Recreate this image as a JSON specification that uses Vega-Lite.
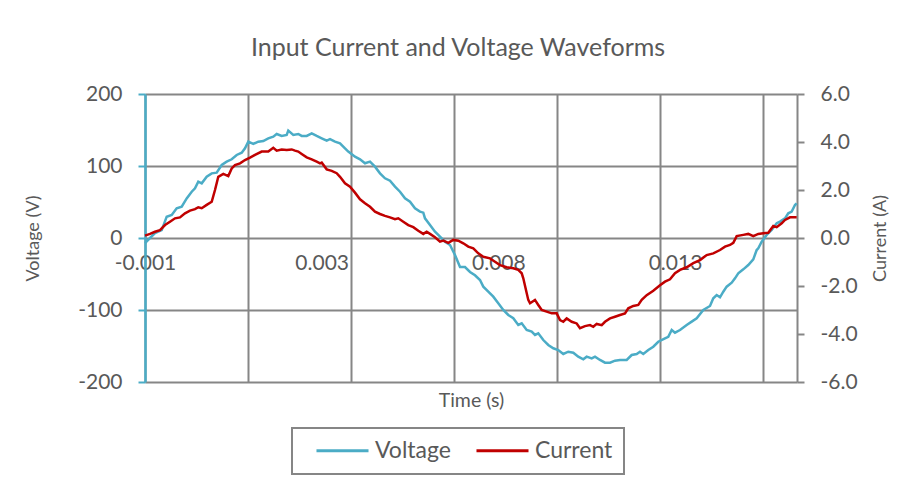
{
  "$schema": "https://vega.github.io/schema/vega-lite/v6.json",
  "width": 652,
  "height": 288,
  "autosize": {"type": "none"},
  "padding": {"left": 145, "top": 94, "right": 109, "bottom": 104},
  "background": "white",
  "config": {
    "view": {"stroke": null},
    "font": "Lato",
    "axis": {"labelFont": "Lato", "titleFont": "Lato", "labelColor": "#595959", "titleColor": "#595959", "titleFontWeight": "normal"},
    "legend": {"strokeWidth": 2}
  },
  "title": {"text": "Input Current and Voltage Waveforms", "fontSize": 25, "font": "Lato", "fontWeight": "normal", "color": "#595959", "anchor": "middle", "dx": -13, "offset": 22},
  "datasets": {
    "voltage": [
      {"t":-0.0015,"V":-7},{"t":-0.001359,"V":0},{"t":-0.001217,"V":6.9},{"t":-0.001027,"V":11},{"t":-0.000886,"V":29.6},{"t":-0.000744,"V":31.9},{"t":-0.000603,"V":41.2},{"t":-0.000461,"V":43.5},{"t":-0.00032,"V":55},{"t":-0.000178,"V":64.3},{"t":-0.000085,"V":69},{"t":0.000008,"V":78.2},{"t":0.000105,"V":75.9},{"t":0.000246,"V":85.1},{"t":0.000388,"V":89.8},{"t":0.000529,"V":90.7},{"t":0.000671,"V":101.4},{"t":0.000812,"V":106},{"t":0.000954,"V":109.3},{"t":0.001095,"V":115.3},{"t":0.001237,"V":118.5},{"t":0.00133,"V":124.6},{"t":0.001423,"V":133.8},{"t":0.001565,"V":130.6},{"t":0.001706,"V":133.8},{"t":0.001848,"V":134.7},{"t":0.001989,"V":138.5},{"t":0.002131,"V":140.8},{"t":0.002227,"V":144.5},{"t":0.002369,"V":141.8},{"t":0.00251,"V":143.1},{"t":0.002555,"V":149.1},{"t":0.002697,"V":143.1},{"t":0.002838,"V":144.5},{"t":0.002935,"V":141.8},{"t":0.003076,"V":141.8},{"t":0.003218,"V":145.4},{"t":0.003359,"V":141.8},{"t":0.003501,"V":138.5},{"t":0.003642,"V":135.2},{"t":0.003736,"V":137.2},{"t":0.003877,"V":133.8},{"t":0.004019,"V":131.5},{"t":0.00416,"V":124.6},{"t":0.004253,"V":120},{"t":0.004443,"V":112.9},{"t":0.004585,"V":109.3},{"t":0.004726,"V":103.8},{"t":0.004868,"V":106},{"t":0.005009,"V":99.1},{"t":0.005151,"V":89.8},{"t":0.005292,"V":82.9},{"t":0.005434,"V":79.6},{"t":0.005575,"V":71.3},{"t":0.005717,"V":64.3},{"t":0.005858,"V":55.1},{"t":0.006,"V":50.5},{"t":0.006141,"V":41.2},{"t":0.006283,"V":36.6},{"t":0.006376,"V":35.2},{"t":0.006424,"V":27.3},{"t":0.006566,"V":18.1},{"t":0.006707,"V":8.8},{"t":0.006849,"V":1.8},{"t":0.00699,"V":-5.1},{"t":0.007132,"V":-9.7},{"t":0.007273,"V":-23.6},{"t":0.007415,"V":-40.3},{"t":0.007556,"V":-40.3},{"t":0.007698,"V":-47.2},{"t":0.007839,"V":-51.7},{"t":0.007981,"V":-58.3},{"t":0.008074,"V":-67.6},{"t":0.008215,"V":-74.6},{"t":0.008357,"V":-81.5},{"t":0.008498,"V":-90.7},{"t":0.00864,"V":-100},{"t":0.008781,"V":-106.9},{"t":0.008923,"V":-111.5},{"t":0.009064,"V":-120.8},{"t":0.009161,"V":-118.5},{"t":0.009302,"V":-127.8},{"t":0.009444,"V":-130.1},{"t":0.009537,"V":-134.7},{"t":0.00963,"V":-132.4},{"t":0.009772,"V":-141.7},{"t":0.009913,"V":-148.6},{"t":0.010055,"V":-153.2},{"t":0.010196,"V":-155.6},{"t":0.010338,"V":-161.1},{"t":0.010479,"V":-157.9},{"t":0.010621,"V":-159.3},{"t":0.010762,"V":-164.8},{"t":0.010904,"V":-168.5},{"t":0.011,"V":-164.8},{"t":0.011142,"V":-167.1},{"t":0.011235,"V":-164.8},{"t":0.011377,"V":-169.4},{"t":0.011518,"V":-173.1},{"t":0.01166,"V":-173.1},{"t":0.011801,"V":-170.4},{"t":0.011943,"V":-169.4},{"t":0.012132,"V":-169.4},{"t":0.012274,"V":-162.5},{"t":0.012415,"V":-161.1},{"t":0.012509,"V":-157.9},{"t":0.012602,"V":-161.1},{"t":0.012743,"V":-155.6},{"t":0.012885,"V":-151},{"t":0.013026,"V":-144.1},{"t":0.013216,"V":-139.3},{"t":0.013309,"V":-137.2},{"t":0.013406,"V":-127.8},{"t":0.013499,"V":-131.5},{"t":0.013641,"V":-127.8},{"t":0.01383,"V":-120.8},{"t":0.013972,"V":-116.2},{"t":0.014113,"V":-111.5},{"t":0.0143,"V":-100},{"t":0.01449,"V":-94.4},{"t":0.014583,"V":-83.8},{"t":0.014679,"V":-79.2},{"t":0.014773,"V":-82.4},{"t":0.014866,"V":-74.6},{"t":0.014962,"V":-67.6},{"t":0.015104,"V":-62},{"t":0.015197,"V":-56},{"t":0.01529,"V":-49},{"t":0.015432,"V":-43.5},{"t":0.015573,"V":-37.5},{"t":0.015715,"V":-29.6},{"t":0.015811,"V":-16.7},{"t":0.015856,"V":-14.4},{"t":0.015953,"V":-5.1},{"t":0.016094,"V":4.2},{"t":0.016236,"V":11.1},{"t":0.016377,"V":20.4},{"t":0.016471,"V":22.7},{"t":0.016612,"V":27.3},{"t":0.016705,"V":34.3},{"t":0.016802,"V":36.6},{"t":0.016895,"V":45.8},{"t":0.016943,"V":48.2}
    ],
    "current": [
      {"t":-0.0015,"I":0.1},{"t":-0.001359,"I":0.17},{"t":-0.001217,"I":0.26},{"t":-0.001076,"I":0.33},{"t":-0.000934,"I":0.54},{"t":-0.000793,"I":0.68},{"t":-0.000651,"I":0.82},{"t":-0.00051,"I":0.86},{"t":-0.000368,"I":1.03},{"t":-0.000227,"I":1.14},{"t":-0.000085,"I":1.2},{"t":0.000008,"I":1.28},{"t":0.000105,"I":1.24},{"t":0.000246,"I":1.38},{"t":0.000388,"I":1.51},{"t":0.000481,"I":2.0},{"t":0.000574,"I":2.55},{"t":0.000716,"I":2.67},{"t":0.000857,"I":2.58},{"t":0.000954,"I":2.9},{"t":0.001047,"I":3.04},{"t":0.001189,"I":3.11},{"t":0.00133,"I":3.25},{"t":0.001472,"I":3.35},{"t":0.001613,"I":3.46},{"t":0.001803,"I":3.6},{"t":0.001989,"I":3.6},{"t":0.002131,"I":3.76},{"t":0.002227,"I":3.64},{"t":0.002369,"I":3.69},{"t":0.00251,"I":3.67},{"t":0.002652,"I":3.69},{"t":0.002745,"I":3.64},{"t":0.002838,"I":3.6},{"t":0.002935,"I":3.5},{"t":0.003076,"I":3.36},{"t":0.003218,"I":3.28},{"t":0.003359,"I":3.18},{"t":0.003453,"I":3.11},{"t":0.003501,"I":3.14},{"t":0.003642,"I":2.86},{"t":0.003784,"I":2.8},{"t":0.003925,"I":2.7},{"t":0.004019,"I":2.55},{"t":0.00416,"I":2.28},{"t":0.004302,"I":2.14},{"t":0.004443,"I":1.89},{"t":0.004585,"I":1.61},{"t":0.004726,"I":1.45},{"t":0.004868,"I":1.3},{"t":0.005009,"I":1.1},{"t":0.005151,"I":1.0},{"t":0.005292,"I":0.92},{"t":0.005434,"I":0.86},{"t":0.005575,"I":0.78},{"t":0.005668,"I":0.82},{"t":0.00581,"I":0.68},{"t":0.005951,"I":0.54},{"t":0.006093,"I":0.45},{"t":0.006234,"I":0.3},{"t":0.006376,"I":0.17},{"t":0.006472,"I":0.26},{"t":0.006566,"I":0.17},{"t":0.006707,"I":0.03},{"t":0.006849,"I":-0.15},{"t":0.006942,"I":-0.11},{"t":0.007083,"I":-0.2},{"t":0.007225,"I":-0.08},{"t":0.007366,"I":-0.11},{"t":0.007508,"I":-0.22},{"t":0.007649,"I":-0.36},{"t":0.007791,"I":-0.43},{"t":0.007932,"I":-0.64},{"t":0.008074,"I":-0.78},{"t":0.008264,"I":-0.85},{"t":0.008405,"I":-0.99},{"t":0.008547,"I":-1.13},{"t":0.008736,"I":-1.22},{"t":0.008923,"I":-1.26},{"t":0.009064,"I":-1.33},{"t":0.009161,"I":-1.47},{"t":0.009206,"I":-1.68},{"t":0.009282,"I":-2.17},{"t":0.009347,"I":-2.58},{"t":0.009396,"I":-2.72},{"t":0.009537,"I":-2.58},{"t":0.00963,"I":-2.79},{"t":0.009727,"I":-3.0},{"t":0.009868,"I":-3.07},{"t":0.01001,"I":-3.14},{"t":0.010151,"I":-3.14},{"t":0.010245,"I":-3.42},{"t":0.010338,"I":-3.49},{"t":0.010434,"I":-3.35},{"t":0.010576,"I":-3.49},{"t":0.010717,"I":-3.56},{"t":0.010811,"I":-3.76},{"t":0.010952,"I":-3.67},{"t":0.011094,"I":-3.63},{"t":0.011187,"I":-3.7},{"t":0.011283,"I":-3.58},{"t":0.011425,"I":-3.63},{"t":0.011518,"I":-3.49},{"t":0.01166,"I":-3.35},{"t":0.011801,"I":-3.28},{"t":0.011943,"I":-3.21},{"t":0.012084,"I":-3.14},{"t":0.012177,"I":-2.93},{"t":0.012319,"I":-2.83},{"t":0.01246,"I":-2.79},{"t":0.012557,"I":-2.58},{"t":0.012698,"I":-2.38},{"t":0.012885,"I":-2.2},{"t":0.013075,"I":-1.97},{"t":0.013216,"I":-1.82},{"t":0.013358,"I":-1.72},{"t":0.013499,"I":-1.47},{"t":0.013641,"I":-1.33},{"t":0.01383,"I":-1.22},{"t":0.014017,"I":-1.05},{"t":0.014207,"I":-0.92},{"t":0.014396,"I":-0.71},{"t":0.014583,"I":-0.64},{"t":0.014773,"I":-0.5},{"t":0.014914,"I":-0.36},{"t":0.015056,"I":-0.29},{"t":0.015149,"I":-0.2},{"t":0.015245,"I":0.08},{"t":0.015432,"I":0.13},{"t":0.015573,"I":0.17},{"t":0.015715,"I":0.08},{"t":0.015856,"I":0.17},{"t":0.015998,"I":0.2},{"t":0.016139,"I":0.22},{"t":0.016281,"I":0.5},{"t":0.016377,"I":0.45},{"t":0.016519,"I":0.61},{"t":0.016612,"I":0.75},{"t":0.016754,"I":0.86},{"t":0.016943,"I":0.86}
    ]
  },
  "layer": [
    {
      "data": {"name": "voltage"},
      "mark": {"type": "line", "strokeWidth": 2.5},
      "encoding": {
        "x": {
          "field": "t", "type": "quantitative",
          "scale": {"domain": [-0.0015, 0.016952], "nice": false, "zero": false},
          "axis": {"values": [-0.0015, 0.001415, 0.00433, 0.007245, 0.01016, 0.013075, 0.015989], "grid": true, "gridColor": "#868686", "gridWidth": 2, "labels": false, "ticks": false, "domain": false, "title": null}
        },
        "y": {
          "field": "V", "type": "quantitative",
          "scale": {"domain": [-200, 200], "nice": false},
          "axis": {"orient": "left", "values": [-200, -100, 0, 100, 200], "labelExpr": "toString(datum.value)", "grid": true, "gridColor": "#868686", "gridWidth": 2, "domainColor": "#4BACC6", "domainWidth": 2.5, "tickColor": "#4BACC6", "tickWidth": 2, "tickSize": 7, "labelFontSize": 21, "labelPadding": 16, "title": "Voltage (V)", "titleFontSize": 18, "titleAngle": -90, "titleX": -112, "titleY": 144, "titleBaseline": "middle", "titleAlign": "center"}
        },
        "color": {
          "datum": "Voltage", "type": "nominal",
          "scale": {"domain": ["Voltage", "Current"], "range": ["#4BACC6", "#C00000"]},
          "legend": {"orient": "none", "legendX": 147, "legendY": 334, "direction": "horizontal", "title": null, "strokeColor": "#868686", "padding": 11, "symbolType": "M0.33,0H9", "symbolSize": 144, "symbolStrokeWidth": 3, "labelFontSize": 23, "labelColor": "#595959", "labelFont": "Lato", "columnPadding": 12, "labelOffset": 49}
        }
      }
    },
    {
      "data": {"name": "current"},
      "mark": {"type": "line", "strokeWidth": 2.5},
      "encoding": {
        "x": {
          "field": "t", "type": "quantitative",
          "axis": {"orient": "bottom", "offset": -144, "values": [-0.0015, 0.0035, 0.0085, 0.0135], "labelExpr": "datum.value < 0 ? '-0.001' : datum.value < 0.005 ? '0.003' : datum.value < 0.01 ? '0.008' : '0.013'", "grid": false, "ticks": false, "domain": false, "labelFontSize": 21, "labelPadding": 14, "labelFlush": false, "labelOverlap": false, "labelBound": false, "title": "Time (s)", "titleFontSize": 19.5, "titleY": 162, "titleBaseline": "middle"}
        },
        "y": {
          "field": "I", "type": "quantitative",
          "scale": {"domain": [-6, 6], "nice": false},
          "axis": {"orient": "right", "values": [-6, -4, -2, 0, 2, 4, 6], "labelExpr": "replace(format(datum.value, '.1f'), '\u2212', '-')", "grid": false, "domainColor": "#868686", "domainWidth": 2, "tickColor": "#868686", "tickWidth": 2, "tickSize": 7, "labelFontSize": 21, "labelPadding": 16, "title": "Current (A)", "titleFontSize": 18, "titleAngle": 270, "titleX": 83, "titleY": 144, "titleBaseline": "middle", "titleAlign": "center"}
        },
        "color": {"datum": "Current", "type": "nominal"}
      }
    }
  ],
  "resolve": {"scale": {"y": "independent"}, "axis": {"x": "independent"}}
}
